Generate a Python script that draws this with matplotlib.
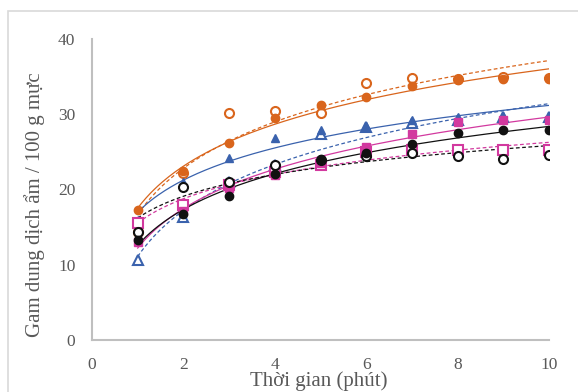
import numpy as np
import matplotlib
matplotlib.use("Agg")
import matplotlib.pyplot as plt
from matplotlib.patches import Rectangle

x = [1, 2, 3, 4, 5, 6, 7, 8, 9, 10]

orange_filled = [17.3, 22.5, 26.2, 29.5, 31.2, 32.3, 33.8, 34.5, 34.7, 34.7]
orange_open   = [14.4, 22.2, 30.2, 30.4, 30.2, 34.2, 34.8, 34.7, 35.0, 34.8]
blue_filled   = [16.0, 21.0, 24.2, 26.8, 27.9, 28.5, 29.3, 29.6, 29.8, 29.8]
blue_open     = [10.6, 16.4, 21.0, 23.3, 27.4, 28.3, 28.8, 29.2, 29.6, 29.6]
magenta_filled = [13.0, 17.2, 20.2, 21.9, 23.5, 25.6, 27.4, 29.0, 29.3, 29.3]
magenta_open   = [15.6, 18.0, 20.6, 22.3, 23.3, 25.0, 25.2, 25.3, 25.2, 25.3]
black_filled  = [13.3, 16.8, 19.2, 22.0, 24.0, 24.8, 26.1, 27.5, 27.9, 27.9]
black_open    = [14.3, 20.3, 21.0, 23.3, 23.9, 24.5, 24.9, 24.4, 24.0, 24.6]

xlabel = "Thời gian (phút)"
ylabel = "Gam dung dịch ẩm / 100 g mực"

ORANGE = "#D9651C"
BLUE = "#3A62AD"
MAGENTA = "#D2399F"
BLACK = "#111111"
GRAY_TXT = "#595959"

series = [
    (orange_open, ORANGE, "o", False, "--"),
    (orange_filled, ORANGE, "o", True, "-"),
    (blue_open, BLUE, "^", False, "--"),
    (blue_filled, BLUE, "^", True, "-"),
    (magenta_open, MAGENTA, "s", False, "--"),
    (magenta_filled, MAGENTA, "s", True, "-"),
    (black_open, BLACK, "o", False, "--"),
    (black_filled, BLACK, "o", True, "-"),
]

plt.rcParams["font.family"] = ["Liberation Serif", "DejaVu Serif"]

fig = plt.figure(figsize=(5.78, 3.92), dpi=100)
fig.patches.append(Rectangle((8/578, -0.1), 1.2, 1 - 11/392 + 0.1, transform=fig.transFigure,
                             fill=False, edgecolor="#d9d9d9", linewidth=1.2))
ax = fig.add_axes([92/578, 1 - 340/392, (549 - 92)/578, (340 - 39)/392])

xa = np.array(x, dtype=float)
xs = np.linspace(1, 10, 200)
for vals, col, mk, filled, ls in series:
    coef = np.polyfit(np.log(xa), np.array(vals), 1)
    ax.plot(xs, coef[0]*np.log(xs) + coef[1], color=col, lw=0.9, ls=ls,
            dashes=(3, 2) if ls == "--" else (None, None), zorder=2)
for vals, col, mk, filled, ls in series:
    if filled:
        ms = 6 if mk == "o" else 5.5
        ax.plot(x, vals, ls="none", marker=mk, ms=ms, color=col, mec=col, zorder=3)
    else:
        ax.plot(x, vals, ls="none", marker=mk, ms=6.5, mfc="white", mec=col, mew=1.5, zorder=3)

ax.set_xlim(0, 10)
ax.set_ylim(0, 40)
ax.set_xticks([0, 2, 4, 6, 8, 10])
ax.set_yticks([0, 10, 20, 30, 40])
for s in ["top", "right"]:
    ax.spines[s].set_visible(False)
for s in ["left", "bottom"]:
    ax.spines[s].set_color("#bfbfbf")
    ax.spines[s].set_linewidth(1.5)
ax.tick_params(axis="x", length=0, labelsize=12.5, colors=GRAY_TXT, pad=12)
ax.tick_params(axis="y", length=0, labelsize=12.5, colors=GRAY_TXT, pad=12)
ax.set_xlabel(xlabel, fontsize=15, color=GRAY_TXT)
ax.set_ylabel(ylabel, fontsize=15, color=GRAY_TXT)
ax.xaxis.set_label_coords((319 - 92) / 457, (340 - 381) / 301)
ax.yaxis.set_label_coords((35 - 92) / 457, (340 - 205) / 301)
ax.xaxis.label.set_va("center")
ax.yaxis.label.set_va("center")

fig.savefig("out.png", dpi=100)
